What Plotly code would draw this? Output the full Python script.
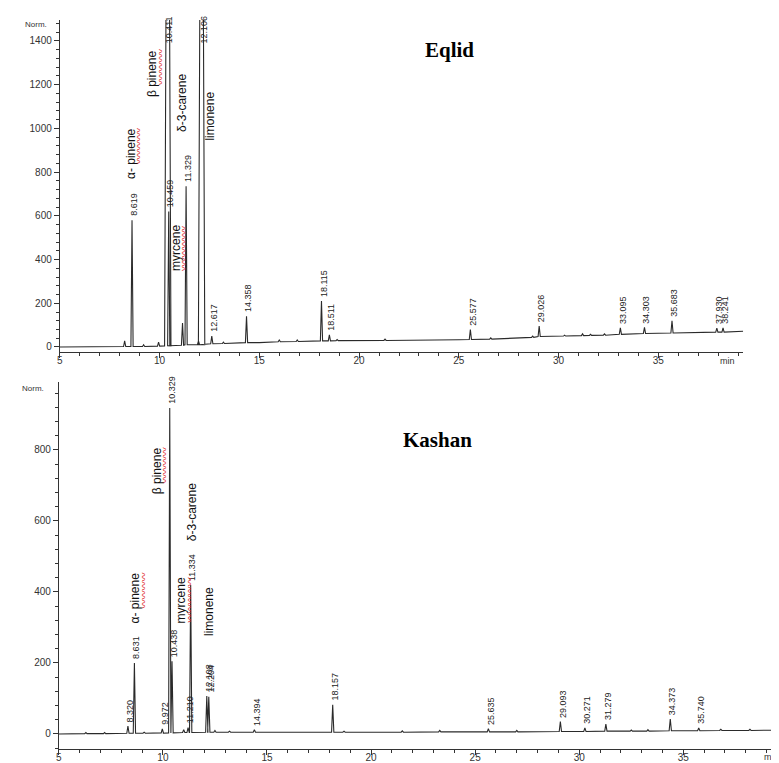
import plotly.graph_objects as go

# ---------------- data: Eqlid (top) ----------------
eq_rt = [8.619, 10.411, 10.459, 11.329, 12.106, 12.617, 14.358, 18.115, 18.511,
         25.577, 29.026, 33.095, 34.303, 35.683, 37.930, 38.241]
eq_apex = [580, 3500, 620, 735, 3500, 50, 140, 210, 55,
           80, 96, 88, 90, 120, 86, 88]
eq_base = [2, 5, 6, 10, 10, 15, 20, 28, 28, 34, 48, 58, 62, 64, 68, 68]
eq_minor_rt = [8.25, 9.2, 9.95, 11.15, 11.95, 13.2, 16.0, 16.9, 18.9, 21.3,
               26.6, 28.7, 30.3, 31.2, 31.6, 32.3]
eq_minor_apex = [28, 10, 22, 110, 28, 22, 32, 32, 34, 36, 42, 50, 54, 60, 58, 60]
eq_minor_base = [2, 2, 4, 8, 10, 16, 24, 25, 29, 30, 36, 44, 50, 52, 53, 54]
eq_bl_t = [5, 8, 12, 15, 20, 25, 30, 35, 39.25]
eq_bl_y = [0, 1, 10, 20, 29, 33, 48, 62, 72]
eq_names = ["α- pinene", "β pinene", "δ-3-carene", "limonene", "myrcene"]
eq_name_t = [8.57, 9.62, 11.12, 12.51, 10.82]
eq_name_y = [883, 1253, 1116, 1057, 453]

# ---------------- data: Kashan (bottom) ----------------
ka_rt = [8.320, 8.631, 9.972, 10.329, 10.438, 11.210, 11.334, 12.108, 12.204,
         14.394, 18.157, 25.635, 29.093, 30.271, 31.279, 34.373, 35.740]
ka_apex = [22, 200, 14, 918, 205, 18, 420, 107, 105,
           12, 82, 15, 35, 17, 28, 42, 17]
ka_base = [2, 2, 3, 3, 3, 4, 4, 5, 5, 5, 5, 6, 7, 7, 8, 9, 9]
ka_minor_rt = [6.3, 7.2, 9.1, 11.0, 12.5, 13.2, 15.5, 18.7, 21.5, 23.3, 27.0,
               32.5, 33.3, 36.8, 38.2]
ka_minor_apex = [4, 4, 5, 12, 10, 8, 7, 8, 9, 10, 10, 11, 12, 13, 13]
ka_minor_base = [1, 1, 2, 4, 5, 5, 5, 5, 5, 6, 6, 8, 8, 10, 10]
ka_bl_t = [5, 10, 15, 20, 25, 30, 35, 40]
ka_bl_y = [0, 2, 5, 5, 6, 7, 9, 11]
ka_names = ["α- pinene", "β pinene", "myrcene", "δ-3-carene", "limonene"]
ka_name_t = [8.68, 9.73, 10.88, 11.40, 12.22]
ka_name_y = [383, 741, 377, 625, 344]

y_ticks_top = [0, 200, 400, 600, 800, 1000, 1200, 1400]
y_ticks_bot = [0, 200, 400, 600, 800]
x_ticks = [5, 10, 15, 20, 25, 30, 35]

W, H = 779, 763
TOP_YR = [-22.9, 1495.9]
BOT_YR = [-42.3, 991.5]
TOP_XR = [5, 39.25]
BOT_XR = [5, 39.98]


def trace_xy(rt, apex, base, mrt, mapex, mbase, bl_t, bl_y, ymax):
    items = []
    for t, a, b in list(zip(rt, apex, base)) + list(zip(mrt, mapex, mbase)):
        w = 0.16 if a > ymax else 0.055
        items.append((t - w, [(t - w, b), (t, a), (t + w, b)]))
    for t, y in zip(bl_t, bl_y):
        items.append((t, [(t, y)]))
    items.sort(key=lambda it: it[0])
    xs = [p[0] for _, pts in items for p in pts]
    ys = [p[1] for _, pts in items for p in pts]
    return xs, ys


fig = go.Figure()
x1, y1 = trace_xy(eq_rt, eq_apex, eq_base, eq_minor_rt, eq_minor_apex,
                  eq_minor_base, eq_bl_t, eq_bl_y, TOP_YR[1])
x2, y2 = trace_xy(ka_rt, ka_apex, ka_base, ka_minor_rt, ka_minor_apex,
                  ka_minor_base, ka_bl_t, ka_bl_y, BOT_YR[1])
fig.add_trace(go.Scatter(x=x1, y=y1, mode="lines", xaxis="x", yaxis="y",
                         line=dict(color="#2a2a2a", width=1.1), hoverinfo="skip"))
fig.add_trace(go.Scatter(x=x2, y=y2, mode="lines", xaxis="x2", yaxis="y2",
                         line=dict(color="#2a2a2a", width=1.1), hoverinfo="skip"))

SANS = "Liberation Sans, Arial, sans-serif"
SERIF = "Liberation Serif, Times New Roman, serif"
CJK = "Noto Sans CJK SC, sans-serif"
annots = []


def rt_labels(rt, apex, xref, yref, ymax):
    for t, a in zip(rt, apex):
        if a > ymax:
            annots.append(dict(x=t, y=ymax, xref=xref, yref=yref, text=f"{t:.3f}",
                               textangle=-90, showarrow=False, xanchor="center",
                               yanchor="top", xshift=2, yshift=6,
                               font=dict(family=SANS, size=9, color="#222")))
        else:
            annots.append(dict(x=t, y=a, xref=xref, yref=yref, text=f"{t:.3f}",
                               textangle=-90, showarrow=False, xanchor="center",
                               yanchor="bottom", xshift=2, yshift=2,
                               font=dict(family=SANS, size=9, color="#222")))


# spell-check squiggle beside the (misspelt) words: (reps, vertical shift in px)
SQUIGGLE = {"α- pinene": (4, 8), "β pinene": (4, 6), "myrcene": (5, 0)}


def name_labels(names, ts, ys, xref, yref):
    for n, t, y in zip(names, ts, ys):
        annots.append(dict(x=t, y=y, xref=xref, yref=yref, text=n,
                           textangle=-90, showarrow=False, xanchor="center",
                           yanchor="middle",
                           font=dict(family=SANS, size=12, color="#111")))
        if n in SQUIGGLE:
            reps, ysh = SQUIGGLE[n]
            annots.append(dict(x=t, y=y, xref=xref, yref=yref,
                               text="〰" * reps, textangle=-90, showarrow=False,
                               xanchor="center", yanchor="middle",
                               xshift=8, yshift=ysh,
                               font=dict(family=CJK, size=9, color="#e02020")))


rt_labels(eq_rt, eq_apex, "x", "y", TOP_YR[1])
rt_labels(ka_rt, ka_apex, "x2", "y2", BOT_YR[1])
name_labels(eq_names, eq_name_t, eq_name_y, "x", "y")
name_labels(ka_names, ka_name_t, ka_name_y, "x2", "y2")


def px(x, y):
    return x / W, 1 - y / H


for txt, (cx, cy), anc, fnt in [
    ("<b>Eqlid</b>", (440, 42), "center", dict(family=SERIF, size=21, color="#000")),
    ("<b>Kashan</b>", (428, 432), "center", dict(family=SERIF, size=21, color="#000")),
    ("Norm.", (25, 16), "center", dict(family=SANS, size=8, color="#333")),
    ("Norm.", (22, 380), "center", dict(family=SANS, size=8, color="#333")),
    ("min", (719, 353), "center", dict(family=SANS, size=9, color="#333")),
    ("min", (773, 749), "right", dict(family=SANS, size=9, color="#333")),
]:
    X, Y = px(cx, cy)
    annots.append(dict(x=X, y=Y, xref="paper", yref="paper", text=txt,
                       showarrow=False, xanchor=anc, yanchor="middle",
                       font=fnt))

axis_common = dict(showgrid=False, zeroline=False, showline=True,
                   linecolor="#333", linewidth=1, ticks="outside",
                   ticklen=5, tickcolor="#333", tickwidth=1,
                   tickfont=dict(family=SANS, size=10, color="#333"))

fig.update_layout(
    width=W, height=H, margin=dict(l=0, r=0, t=0, b=0),
    paper_bgcolor="white", plot_bgcolor="white", showlegend=False,
    annotations=annots,
    xaxis=dict(domain=[49 / W, 735 / W], range=TOP_XR, anchor="y",
               tickvals=x_ticks, ticktext=[str(v) for v in x_ticks],
               ticklabelstandoff=-6,
               minor=dict(dtick=1, ticks="outside", ticklen=3, tickcolor="#333"),
               **axis_common),
    yaxis=dict(domain=[1 - 344 / H, 1 - 12 / H], range=TOP_YR, anchor="x",
               tickvals=y_ticks_top, ticktext=[str(v) for v in y_ticks_top],
               minor=dict(dtick=40, ticks="outside", ticklen=3, tickcolor="#333"),
               **axis_common),
    xaxis2=dict(domain=[48 / W, 1.0], range=BOT_XR, anchor="y2",
                tickvals=x_ticks, ticktext=[str(v) for v in x_ticks],
                ticklabelstandoff=-6,
                minor=dict(dtick=1, ticks="outside", ticklen=3, tickcolor="#333"),
                **axis_common),
    yaxis2=dict(domain=[1 - 741 / H, 1 - 374 / H], range=BOT_YR, anchor="x2",
                tickvals=y_ticks_bot, ticktext=[str(v) for v in y_ticks_bot],
                minor=dict(dtick=40, ticks="outside", ticklen=3, tickcolor="#333"),
                **axis_common),
)

fig.write_html("out.html")
